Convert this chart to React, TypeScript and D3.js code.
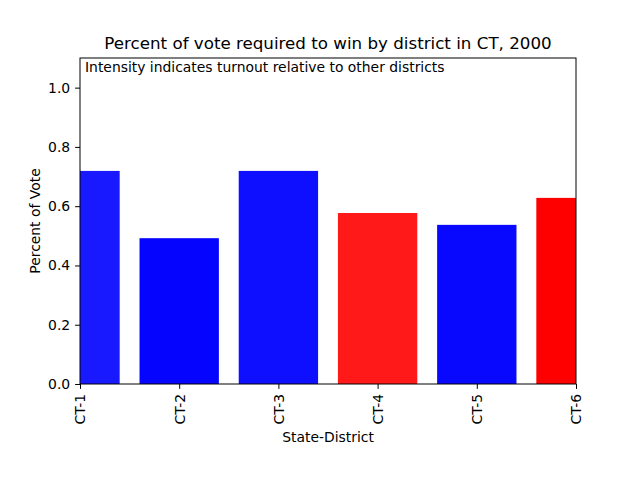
import React, { useRef, useEffect } from 'react';
import * as d3 from 'd3';

const districts = ['CT-1', 'CT-2', 'CT-3', 'CT-4', 'CT-5', 'CT-6'];
const voteShare = [0.719, 0.492, 0.719, 0.577, 0.537, 0.628];
const barColors = ['#1919ff', '#0505ff', '#0f0fff', '#ff1919', '#0808ff', '#ff0000'];
const yTicks = [0.0, 0.2, 0.4, 0.6, 0.8, 1.0];

const App = () => {
  const svgRef = useRef<SVGSVGElement>(null);

  useEffect(() => {
    const svg = d3.select(svgRef.current);
    svg.selectAll('*').remove();
    const width = 640;
    const height = 480;
    const margin = { left: 80, right: 64, top: 58, bottom: 96 };
    const font = 'DejaVu Sans, sans-serif';

    const x = d3.scalePoint<string>().domain(districts).range([margin.left, width - margin.right]).padding(0);
    const barW = x.step() * 0.8;
    const y = d3.scaleLinear().domain([0, 1.1]).range([height - margin.bottom, margin.top]);

    svg.append('rect').attr('width', width).attr('height', height).attr('fill', '#fff');

    svg.append('defs').append('clipPath').attr('id', 'plot-clip')
      .append('rect')
      .attr('x', margin.left).attr('y', margin.top)
      .attr('width', width - margin.left - margin.right)
      .attr('height', height - margin.top - margin.bottom);

    svg.append('g').attr('clip-path', 'url(#plot-clip)')
      .selectAll('rect')
      .data(districts)
      .enter()
      .append('rect')
      .attr('x', d => (x(d) as number) - barW / 2)
      .attr('width', barW)
      .attr('y', (d, i) => y(voteShare[i]))
      .attr('height', (d, i) => y(0) - y(voteShare[i]))
      .attr('fill', (d, i) => barColors[i]);

    // y axis
    const yAxis = svg.append('g').attr('transform', `translate(${margin.left},0)`)
      .call(d3.axisLeft(y).tickValues(yTicks).tickFormat(d3.format('.1f')).tickSizeOuter(0).tickSize(4.9).tickPadding(4.9));
    yAxis.select('.domain').remove();
    yAxis.selectAll('text').attr('font-family', font).attr('font-size', 13.9).attr('fill', '#000');
    yAxis.selectAll('line').attr('stroke', '#000').attr('stroke-width', 1);

    // x axis
    const xAxis = svg.append('g').attr('transform', `translate(0,${height - margin.bottom})`)
      .call(d3.axisBottom(x).tickSizeOuter(0).tickSize(4.9).tickPadding(4.9));
    xAxis.select('.domain').remove();
    xAxis.selectAll('line').attr('stroke', '#000').attr('stroke-width', 1);
    xAxis.selectAll('text')
      .attr('font-family', font).attr('font-size', 13.9).attr('fill', '#000')
      .attr('transform', 'rotate(-90)')
      .attr('x', -9.8).attr('y', 0).attr('dy', '0.35em')
      .attr('text-anchor', 'end');

    // frame
    svg.append('rect')
      .attr('x', margin.left).attr('y', margin.top)
      .attr('width', width - margin.left - margin.right)
      .attr('height', height - margin.top - margin.bottom)
      .attr('fill', 'none').attr('stroke', '#000').attr('stroke-width', 1);

    svg.append('text')
      .attr('x', (margin.left + width - margin.right) / 2).attr('y', 49)
      .attr('text-anchor', 'middle').attr('font-family', font).attr('font-size', 16.7)
      .text('Percent of vote required to win by district in CT, 2000');

    svg.append('text')
      .attr('x', margin.left + 5).attr('y', 72)
      .attr('font-family', font).attr('font-size', 13.9)
      .text('Intensity indicates turnout relative to other districts');

    svg.append('text')
      .attr('x', (margin.left + width - margin.right) / 2).attr('y', 442)
      .attr('text-anchor', 'middle').attr('font-family', font).attr('font-size', 13.9)
      .text('State-District');

    svg.append('text')
      .attr('transform', `translate(40,${(margin.top + height - margin.bottom) / 2}) rotate(-90)`)
      .attr('text-anchor', 'middle').attr('font-family', font).attr('font-size', 13.9)
      .text('Percent of Vote');
  }, []);

  return <svg ref={svgRef} width={640} height={480} style={{ display: 'block', position: 'absolute', left: 0, top: 0 }} />;
};

export default App;
